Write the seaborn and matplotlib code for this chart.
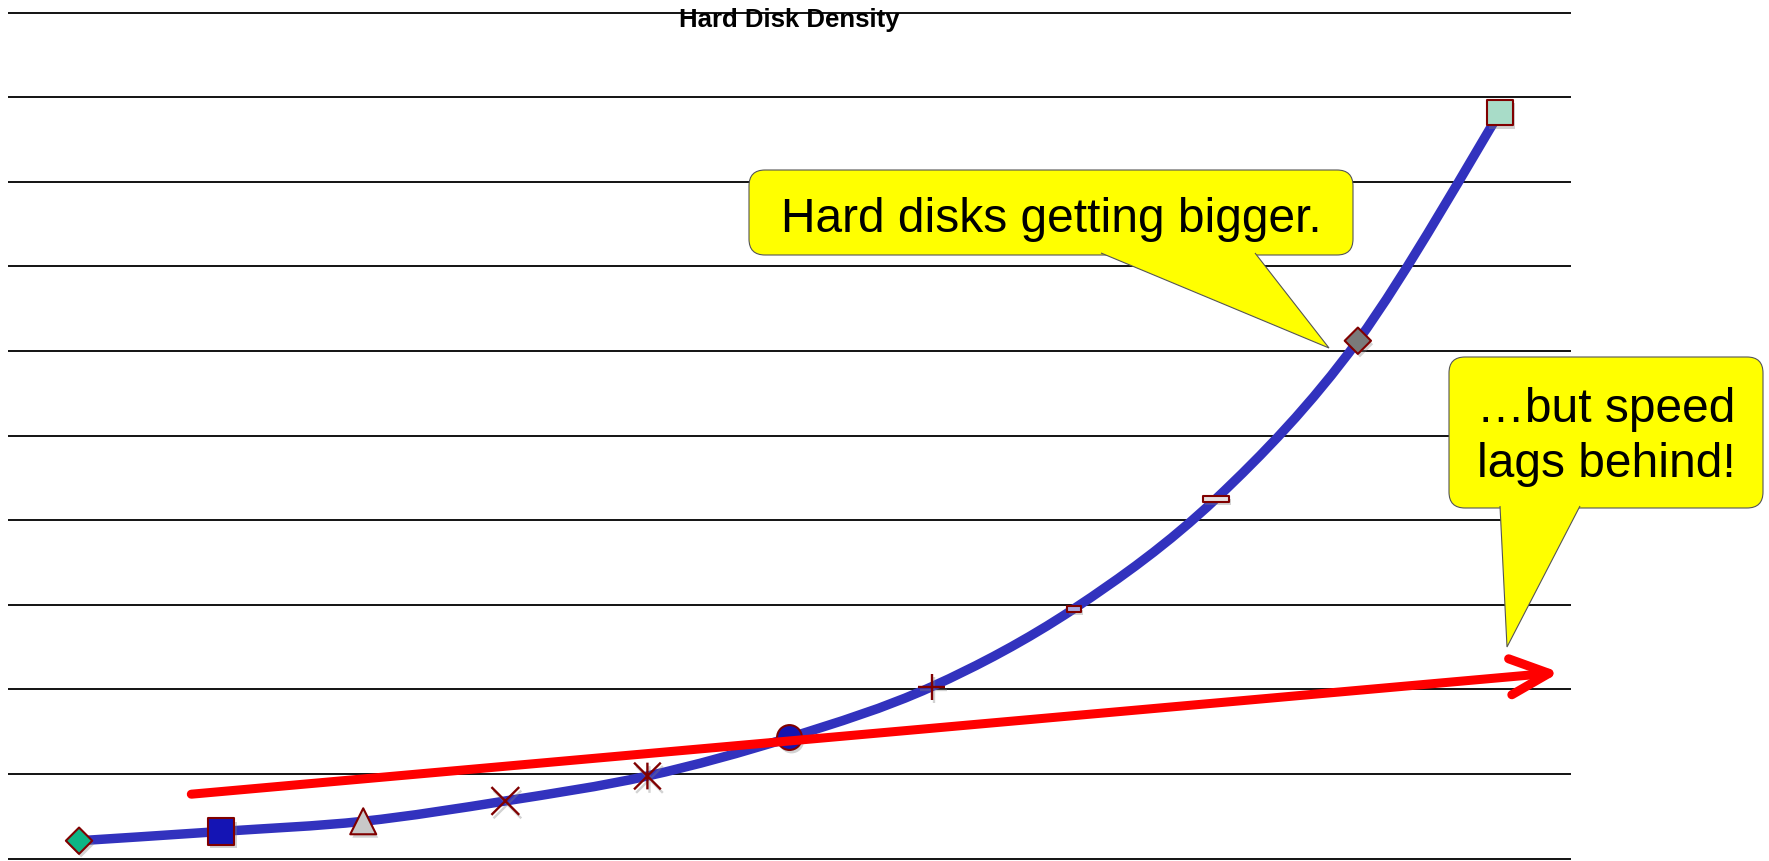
import numpy as np
import pandas as pd
import matplotlib
matplotlib.use("Agg")
import matplotlib.pyplot as plt
import seaborn as sns
from matplotlib.path import Path
from matplotlib.patches import PathPatch, FancyBboxPatch, Polygon, FancyArrowPatch, ArrowStyle
from matplotlib.transforms import IdentityTransform
import matplotlib.patheffects as pe

# ---- data -------------------------------------------------------------
generation = list(range(11))
density = [0.21, 0.32, 0.44, 0.68, 0.975, 1.43, 2.03, 2.95, 4.25, 6.12, 8.82]

# speed trend arrow (start and end in data units)
speed_x = [0.79, 10.42]
speed_y = [0.76, 2.20]

title_text = "Hard Disk Density"
callout_big = "Hard disks getting bigger."
callout_speed = ["\u2026but speed", "lags behind!"]

# ---- styling ----------------------------------------------------------
W, H, DPI = 1769, 861, 100
LINE_BLUE = "#3232BE"
EDGE_RED = "#800000"


def rect_marker(half_h):
    return Path([(-0.5, -half_h), (0.5, -half_h), (0.5, half_h), (-0.5, half_h), (-0.5, -half_h)],
                [Path.MOVETO, Path.LINETO, Path.LINETO, Path.LINETO, Path.CLOSEPOLY])


asterisk = Path([(0, -0.5), (0, 0.5), (-0.5, -0.5), (0.5, 0.5), (-0.5, 0.5), (0.5, -0.5)],
                [Path.MOVETO, Path.LINETO] * 3)

# marker, face colour, area (pt^2), filled
marker_styles = [
    ("D", "#0DB585", 180, True),
    ("s", "#1414B4", 370, True),
    ("^", "#C8C8C8", 350, True),
    ("x", EDGE_RED, 400, False),
    (asterisk, EDGE_RED, 370, False),
    ("o", "#1414B0", 320, True),
    ("+", EDGE_RED, 360, False),
    (rect_marker(0.19), "#A8A8E0", 105, True),
    (rect_marker(0.115), "#E8E0E0", 340, True),
    ("D", "#7A7A7A", 180, True),
    ("s", "#A8DCC8", 340, True),
]

sns.set_style("white")
plt.rcParams["font.family"] = ["Liberation Sans", "DejaVu Sans"]
plt.rcParams["text.color"] = "black"

fig = plt.figure(figsize=(W / DPI, H / DPI), dpi=DPI)
ax = fig.add_axes([8 / W, 0, 1563 / W, 1])
ax.set_xlim(-0.5, 10.5)
ax.set_ylim(-2.5 / 84.6, 858.5 / 84.6)
for s in ax.spines.values():
    s.set_visible(False)
ax.set_yticks(np.arange(0, 11))
ax.set_xticks([])
ax.tick_params(length=0, labelleft=False, labelbottom=False)
ax.grid(axis="y", color="black", linewidth=1.3)
ax.set_axisbelow(True)

# smoothed density curve (cubic Bezier through every data point)
pts = np.column_stack([generation, density]).astype(float)
ext = np.vstack([pts[0], pts, pts[-1]])
verts = [tuple(pts[0])]
codes = [Path.MOVETO]
for i in range(len(pts) - 1):
    p0, p1, p2, p3 = ext[i], ext[i + 1], ext[i + 2], ext[i + 3]
    c1 = p1 + (p2 - p0) / 6.0
    c2 = p2 - (p3 - p1) / 6.0
    verts += [tuple(c1), tuple(c2), tuple(p2)]
    codes += [Path.CURVE4] * 3
curve = PathPatch(Path(verts, codes), facecolor="none", edgecolor=LINE_BLUE,
                  linewidth=6.8, capstyle="round", joinstyle="round", zorder=2)
ax.add_patch(curve)

# markers
df = pd.DataFrame({"generation": generation, "density": density})
for i, (mk, fc, area, filled) in enumerate(marker_styles):
    sub = df.iloc[[i]]
    if filled:
        sns.scatterplot(data=sub, x="generation", y="density", marker=mk, s=area,
                        color=fc, edgecolor=EDGE_RED, linewidth=1.5, ax=ax, zorder=3,
                        legend=False,
                        path_effects=[pe.SimplePatchShadow(offset=(1.5, -2.5), shadow_rgbFace="#808080",
                                                           alpha=0.35), pe.Normal()])
    else:
        sns.scatterplot(data=sub, x="generation", y="density", marker=mk, s=area,
                        color=fc, edgecolor=fc, linewidth=1.7, ax=ax, zorder=3, legend=False,
                        path_effects=[pe.SimpleLineShadow(offset=(1.5, -2.5), shadow_color="#808080",
                                                          alpha=0.35), pe.Normal()])
ax.set_xlabel("")
ax.set_ylabel("")

# speed trend arrow
arrow = FancyArrowPatch(posA=(speed_x[0], speed_y[0]), posB=(speed_x[1], speed_y[1]),
                        arrowstyle=ArrowStyle("->", head_length=28, head_width=13),
                        mutation_scale=1, linewidth=6.5, color="#FF0000",
                        shrinkA=0, shrinkB=0, capstyle="round", joinstyle="round",
                        transform=ax.transData, zorder=4)
ax.add_patch(arrow)

# ---- title and callouts (pixel coordinates, origin top-left) -----------
px = IdentityTransform()


def fy(y):
    return H - y


fig.text(789.5, fy(27.5), title_text, ha="center", va="baseline", fontsize=18.5,
         fontweight="bold", color="black", transform=px, zorder=10)


def callout(x0, y0, x1, y1, pointer):
    box = FancyBboxPatch((x0, fy(y1)), x1 - x0, y1 - y0,
                         boxstyle="round,pad=0,rounding_size=16", transform=px,
                         facecolor="#FFFF00", edgecolor="#555555", linewidth=0.8, zorder=5)
    fig.add_artist(box)
    tri = Polygon([(x, fy(y)) for x, y in pointer], closed=False, transform=px,
                  facecolor="#FFFF00", edgecolor="#555555", linewidth=0.8, zorder=6)
    fig.add_artist(tri)


callout(749, 170, 1353, 255, [(1101, 253), (1329, 348), (1255, 253)])
fig.text(1051, fy(232.5), callout_big, ha="center", va="baseline", fontsize=34.5,
         color="black", transform=px, zorder=7)

callout(1449, 357, 1763, 508, [(1500, 506), (1507, 647), (1580, 506)])
fig.text(1606, fy(421.5), callout_speed[0], ha="center", va="baseline", fontsize=34.5,
         color="black", transform=px, zorder=7)
fig.text(1606, fy(477), callout_speed[1], ha="center", va="baseline", fontsize=34.5,
         color="black", transform=px, zorder=7)

fig.savefig("out.png", dpi=DPI, facecolor="white")
